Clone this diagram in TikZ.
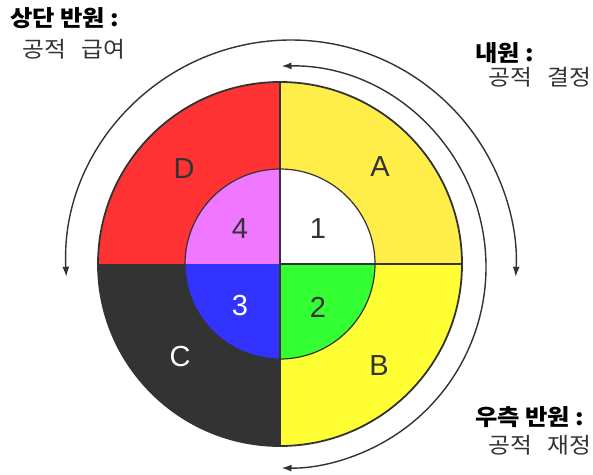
\documentclass[tikz,border=0pt]{standalone}
\usepackage{fontspec}
\setmainfont{Liberation Sans}
\newfontfamily\kr[FakeStretch=1.08]{Noto Sans CJK KR}
\usetikzlibrary{arrows.meta}
\definecolor{edge}{HTML}{333333}
\definecolor{cA}{HTML}{FFEE4A}
\definecolor{cB}{HTML}{FFFF33}
\definecolor{cC}{HTML}{333333}
\definecolor{cD}{HTML}{FF3333}
\definecolor{c1}{HTML}{FFFFFF}
\definecolor{c2}{HTML}{33FF33}
\definecolor{c3}{HTML}{3333FF}
\definecolor{c4}{HTML}{F077FF}
\tikzset{
  seglabel/.style={font=\fontsize{29}{30}\selectfont, text=edge, inner sep=0pt},
  whitelabel/.style={seglabel, text=white},
  titletext/.style={font=\kr\bfseries\fontsize{22.5}{25}\selectfont, anchor=base west, inner sep=0pt, text=black},
  subtext/.style={font=\kr\fontsize{22}{25}\selectfont, anchor=base west, inner sep=0pt, text=edge},
  flow/.style={edge, line width=1.4pt, {Latex[length=10pt,width=7pt]}-{Latex[length=10pt,width=7pt]}},
}
\begin{document}
\begin{tikzpicture}[x=1pt,y=1pt]
\useasboundingbox (0,0) rectangle (593,-474);
\coordinate (O) at (280,-264);
% outer quadrants
\fill[cA] (O) -- ++(0:182) arc[start angle=0,end angle=90,radius=182] -- cycle;
\fill[cD] (O) -- ++(90:182) arc[start angle=90,end angle=180,radius=182] -- cycle;
\fill[cC] (O) -- ++(180:182) arc[start angle=180,end angle=270,radius=182] -- cycle;
\fill[cB] (O) -- ++(270:182) arc[start angle=270,end angle=360,radius=182] -- cycle;
% inner quadrants
\fill[c1] (O) -- ++(0:95) arc[start angle=0,end angle=90,radius=95] -- cycle;
\fill[c4] (O) -- ++(90:95) arc[start angle=90,end angle=180,radius=95] -- cycle;
\fill[c3] (O) -- ++(180:95) arc[start angle=180,end angle=270,radius=95] -- cycle;
\fill[c2] (O) -- ++(270:95) arc[start angle=270,end angle=360,radius=95] -- cycle;
% outlines
\draw[edge, line width=1.8pt] (O) circle[radius=182];
\draw[edge, line width=1.2pt] (O) circle[radius=95];
\draw[edge, line width=1.8pt] (280,-82) -- (280,-446);
\draw[edge, line width=1.8pt] (O) -- (462,-264);
% segment labels
\node[seglabel] (lA) at (380,-167) {A};
\node[seglabel] (lB) at (379,-366) {B};
\node[whitelabel] (lC) at (180,-357) {C};
\node[seglabel] (lD) at (184,-169) {D};
\node[seglabel] (l1) at (318,-229) {1};
\node[seglabel] (l2) at (318,-307) {2};
\node[whitelabel] (l3) at (240,-306) {3};
\node[seglabel] (l4) at (240,-229) {4};
% arcs
\coordinate (upC) at (291,-265);
\coordinate (rtC) at (285,-267);
\draw[flow] ([shift={(183:225)}]upC) arc[start angle=183,end angle=-3,radius=225];
\draw[flow] ([shift={(91:201)}]rtC) arc[start angle=91,end angle=-91,radius=201];
% texts
\node[titletext] (t1) at (10,-26) {상단 반원\hspace{0.25em}:};
\node[subtext] (s1) at (22,-57) {공적\hspace{0.7em}급여};
\node[titletext] (t2) at (475,-61) {내원\hspace{0.25em}:};
\node[subtext] (s2) at (488,-85) {공적\hspace{0.7em}결정};
\node[titletext] (t3) at (475,-425) {우측 반원\hspace{0.25em}:};
\node[subtext] (s3) at (488,-453) {공적\hspace{0.7em}재정};
\end{tikzpicture}
\end{document}
